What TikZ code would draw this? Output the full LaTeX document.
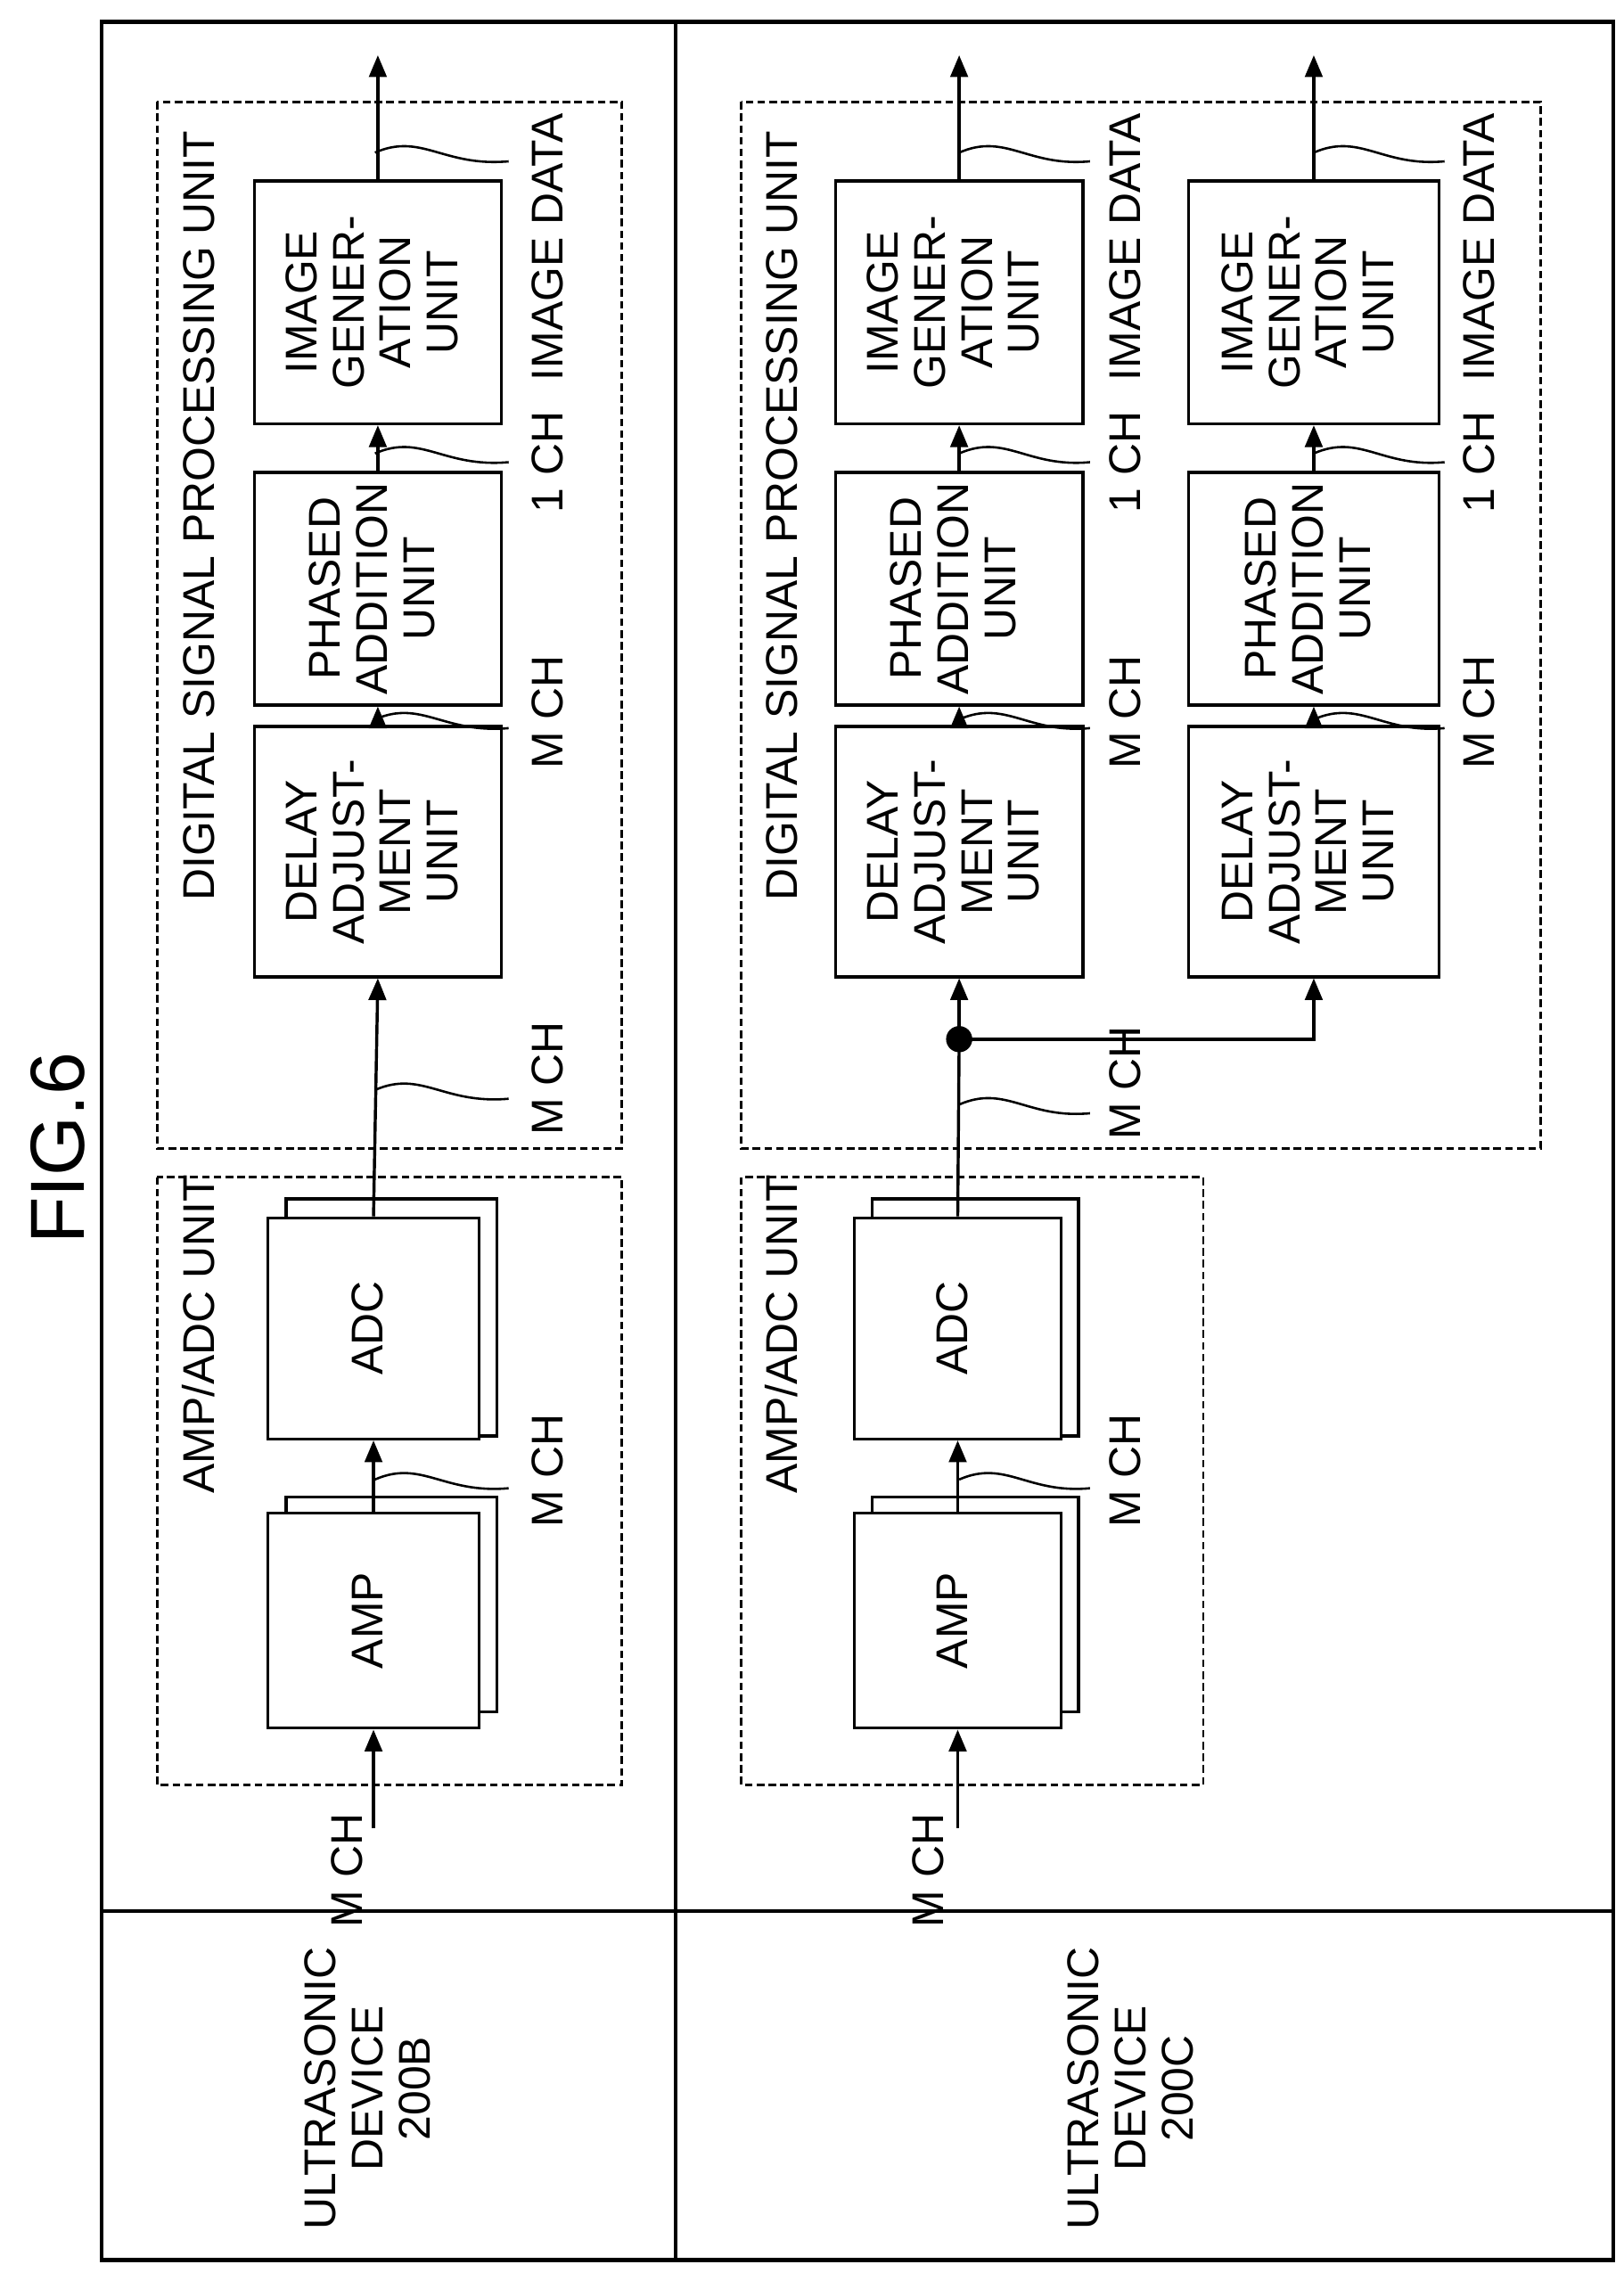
\documentclass[tikz,border=0pt]{standalone}
\usepackage{fontspec}
\setmainfont{Liberation Sans}
\usepackage{graphicx}
\usetikzlibrary{arrows.meta}
\newcommand{\rtxt}[1]{\rotatebox{90}{\renewcommand{\arraystretch}{0.92}\begin{tabular}{@{}c@{}}#1\end{tabular}}}
\begin{document}
\begin{tikzpicture}[x=0.01cm,y=-0.01cm,
  line width=0.6pt,
  every node/.style={font=\fontsize{8.7}{10}\selectfont,inner sep=0pt},
  blk/.style={draw,fill=white,align=center},
  dsh/.style={draw,dash pattern=on 1.5pt off 0.8pt,line width=0.5pt},
  arr/.style={-{Triangle[length=0.15cm,width=0.12cm]}},
  sq/.style={line width=0.45pt}]
\useasboundingbox (0,0) rectangle (1117,1575);
% title
\node (fig) at (40,790) {\rotatebox{90}{\fontsize{15}{17}\selectfont FIG.6}};
% frame
\draw[line width=0.8pt] (70,15) rectangle (1110,1555);
\draw[line width=0.8pt] (465,15) -- (465,1555);
\draw[line width=0.8pt] (70,1315) -- (1110,1315);
\node (devb) at (257,1437) {\rtxt{ULTRASONIC\\DEVICE\\200B}};
\node (devc) at (782,1437) {\rtxt{ULTRASONIC\\DEVICE\\200C}};

% ===== Device B =====
\draw[dsh] (108,810) rectangle (428,1228);
\node (adcub) at (141,918) {\rtxt{AMP/ADC UNIT}};
\draw[dsh] (108,70) rectangle (428,790);
\node (dspb) at (141,355) {\rtxt{DIGITAL SIGNAL PROCESSING UNIT}};
\draw (197,1030) rectangle (342,1178);
\node[blk,minimum width=1.45cm,minimum height=1.48cm] (ampb) at (257,1115) {\rtxt{AMP}};
\draw (197,825) rectangle (342,988);
\node[blk,minimum width=1.45cm,minimum height=1.52cm] (adcb) at (257,914) {\rtxt{ADC}};
\node[blk,minimum width=1.7cm,minimum height=1.72cm] (dlyb) at (260,586) {\rtxt{DELAY\\ADJUST-\\MENT\\UNIT}};
\node[blk,minimum width=1.7cm,minimum height=1.6cm] (phb) at (260,405) {\rtxt{PHASED\\ADDITION\\UNIT}};
\node[blk,minimum width=1.7cm,minimum height=1.67cm] (igb) at (260,208) {\rtxt{IMAGE\\GENER-\\ATION\\UNIT}};
\coordinate (inb) at (257,1258);
\coordinate (outb) at (260,38);
\draw[arr] (inb) -- (ampb.south);
\draw[arr] (ampb.north) -- (adcb.south);
\draw[arr] (adcb.north) -- (dlyb.south);
\draw[arr] (dlyb.north) -- (phb.south);
\draw[arr] (phb.north) -- (igb.south);
\draw[arr] (igb.north) -- (outb);
\node (minb) at (243,1287) {\rtxt{M CH}};
\node (m1b) at (381,1012) {\rtxt{M CH}};
\node (m2b) at (381,742) {\rtxt{M CH}};
\node (m3b) at (381,490) {\rtxt{M CH}};
\node (c1b) at (381,318) {\rtxt{1 CH}};
\node (idb) at (381,170) {\rtxt{IMAGE DATA}};
\foreach \y in {1018,750,495,312,105}{
  \draw[sq] (258,\y) .. controls (290,\y-14) and (305,\y+10) .. (350,\y+6);}

% ===== Device C =====
\draw[dsh] (510,810) rectangle (828,1228);
\node (adcuc) at (542,918) {\rtxt{AMP/ADC UNIT}};
\draw[dsh] (510,70) rectangle (1060,790);
\node (dspc) at (542,355) {\rtxt{DIGITAL SIGNAL PROCESSING UNIT}};
\draw (600,1030) rectangle (742,1178);
\node[blk,minimum width=1.42cm,minimum height=1.48cm] (ampc) at (659,1115) {\rtxt{AMP}};
\draw (600,825) rectangle (742,988);
\node[blk,minimum width=1.42cm,minimum height=1.52cm] (adcc) at (659,914) {\rtxt{ADC}};
\node[blk,minimum width=1.7cm,minimum height=1.72cm] (dly1) at (660,586) {\rtxt{DELAY\\ADJUST-\\MENT\\UNIT}};
\node[blk,minimum width=1.7cm,minimum height=1.6cm] (ph1) at (660,405) {\rtxt{PHASED\\ADDITION\\UNIT}};
\node[blk,minimum width=1.7cm,minimum height=1.67cm] (ig1) at (660,208) {\rtxt{IMAGE\\GENER-\\ATION\\UNIT}};
\node[blk,minimum width=1.72cm,minimum height=1.72cm] (dly2) at (904,586) {\rtxt{DELAY\\ADJUST-\\MENT\\UNIT}};
\node[blk,minimum width=1.72cm,minimum height=1.6cm] (ph2) at (904,405) {\rtxt{PHASED\\ADDITION\\UNIT}};
\node[blk,minimum width=1.72cm,minimum height=1.67cm] (ig2) at (904,208) {\rtxt{IMAGE\\GENER-\\ATION\\UNIT}};
\coordinate (inc) at (659,1258);
\coordinate (out1) at (660,38);
\coordinate (out2) at (904,38);
\coordinate (jn) at (660,715);
\coordinate (bend) at (904,715);
\draw[arr] (inc) -- (ampc.south);
\draw[arr] (ampc.north) -- (adcc.south);
\draw (adcc.north) -- (jn);
\draw[arr] (jn) -- (dly1.south);
\draw[arr] (jn) -- (bend) -- (dly2.south);
\fill (jn) circle (0.09cm);
\draw[arr] (dly1.north) -- (ph1.south);
\draw[arr] (ph1.north) -- (ig1.south);
\draw[arr] (ig1.north) -- (out1);
\draw[arr] (dly2.north) -- (ph2.south);
\draw[arr] (ph2.north) -- (ig2.south);
\draw[arr] (ig2.north) -- (out2);
\node (minc) at (643,1287) {\rtxt{M CH}};
\node (m1c) at (778,1012) {\rtxt{M CH}};
\node (m2c) at (778,745) {\rtxt{M CH}};
\node (m3c) at (778,490) {\rtxt{M CH}};
\node (c1c) at (778,318) {\rtxt{1 CH}};
\node (id1) at (778,170) {\rtxt{IMAGE DATA}};
\node (m4c) at (1022,490) {\rtxt{M CH}};
\node (c2c) at (1022,318) {\rtxt{1 CH}};
\node (id2) at (1022,170) {\rtxt{IMAGE DATA}};
\foreach \x/\y in {660/1018,660/760,660/495,660/312,660/105,904/495,904/312,904/105}{
  \draw[sq] (\x,\y) .. controls (\x+32,\y-14) and (\x+47,\y+10) .. (\x+90,\y+6);}
\end{tikzpicture}
\end{document}
